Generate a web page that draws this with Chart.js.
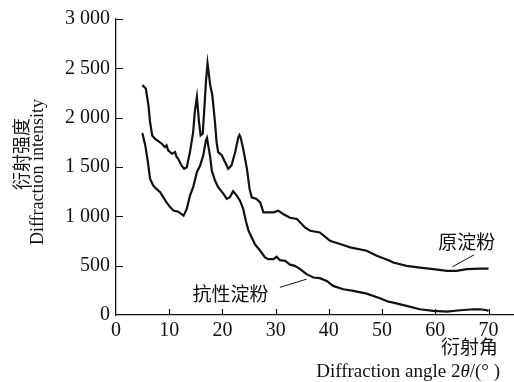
<!DOCTYPE html>
<html>
<head>
<meta charset="utf-8">
<script src="https://cdn.jsdelivr.net/npm/chart.js@4"></script>
<style>
  html, body { margin: 0; padding: 0; background: #fff; }
</style>
</head>
<body>
<canvas id="xrd" width="514" height="382"></canvas>
<script>
// ---- data ----
const nativeAngle = [4.95, 5.6, 6.1, 6.4, 6.8, 7.3, 8.0, 8.6, 9.2, 9.5, 9.8, 10.5, 11.1, 11.4, 11.7, 12.3, 12.8, 13.3, 13.9, 14.5,
  14.8, 15.2, 15.6, 15.9, 16.3, 16.6, 16.9, 17.2, 17.7, 18.1, 18.6, 18.9, 19.2, 19.9, 20.5, 21.1, 21.7, 22.4, 23.0, 23.2,
  23.4, 23.9, 24.6, 25.1, 25.5, 26.4, 27.1, 27.7, 28.6, 29.6, 30.5, 31.4, 32.7, 34.0, 35.5, 36.5, 38.3, 40.2, 42.1, 44.0,
  47.1, 49.0, 51.2, 52.1, 54.6, 57.1, 59.6, 62.2, 64.0, 65.9, 68.4, 70];
const nativeIntensity = [2330, 2295, 2125, 1956, 1820, 1787, 1760, 1736, 1702, 1719, 1668, 1634, 1651, 1600, 1583, 1515, 1482, 1498, 1651, 1854,
  2057, 2210, 1956, 1820, 1837, 2092, 2362, 2550, 2330, 2227, 1956, 1752, 1651, 1617, 1549, 1482, 1515, 1651, 1803, 1825,
  1803, 1685, 1482, 1278, 1193, 1177, 1142, 1040, 1040, 1040, 1058, 1024, 985, 973, 888, 854, 837, 753, 719, 685,
  651, 600, 556, 532, 498, 481, 465, 447, 447, 465, 471, 471];

const resistAngle = [4.95, 5.5, 6.0, 6.4, 7.0, 7.6, 8.3, 8.9, 9.5, 10.2, 10.8, 11.7, 12.7, 13.3, 13.9, 14.5, 15.2, 15.8, 16.4, 16.9,
  17.1, 17.7, 18.0, 18.6, 19.2, 20.2, 20.8, 21.4, 22.0, 22.7, 23.3, 23.9, 24.4, 24.9, 25.5, 26.1, 27.1, 28.0, 28.6, 29.6,
  30.2, 30.8, 31.8, 32.7, 33.6, 34.6, 35.8, 37.1, 38.3, 39.6, 40.8, 42.7, 44.6, 47.1, 49.6, 51.2, 52.1, 54.6, 57.1, 59.6,
  62.2, 64.7, 67.2, 68.4, 69.7, 70];
const resistIntensity = [1845, 1719, 1549, 1380, 1312, 1278, 1244, 1193, 1142, 1091, 1058, 1047, 1007, 1075, 1210, 1295, 1447, 1515, 1617, 1770,
  1795, 1600, 1464, 1363, 1295, 1227, 1177, 1193, 1254, 1210, 1159, 1075, 956, 854, 786, 719, 651, 583, 566, 566,
  590, 556, 549, 510, 498, 465, 414, 380, 373, 346, 295, 261, 244, 217, 170, 135, 125, 92, 58, 41,
  34, 48, 58, 58, 48, 40];

const xTicks = [0, 10, 20, 30, 40, 50, 60, 70];
const yTicks = [0, 500, 1000, 1500, 2000, 2500, 3000];

const SERIF = '"Liberation Serif", "Times New Roman", serif';
const CJK = '"Noto Sans CJK SC", "Noto Sans CJK JP", sans-serif';
const INK = '#111';

function toPoints(xs, ys) {
  return xs.map((x, i) => ({ x, y: ys[i] }));
}

function fmtThousands(v) {
  if (v < 1000) return String(v);
  return Math.floor(v / 1000) + ' ' + String(v % 1000).padStart(3, '0');
}

// inward tick marks, axis titles and curve labels
const decor = {
  id: 'decor',
  afterDraw(chart) {
    const { ctx, chartArea: a, scales: { x, y } } = chart;
    ctx.save();
    ctx.strokeStyle = INK;
    ctx.lineWidth = 1.2;
    ctx.beginPath();
    xTicks.forEach(v => {
      if (v === 0) return;
      const px = Math.round(x.getPixelForValue(v)) + 0.5;
      ctx.moveTo(px, a.bottom); ctx.lineTo(px, a.bottom - 6);
    });
    yTicks.forEach(v => {
      if (v === 0) return;
      const py = Math.round(y.getPixelForValue(v)) + 0.5;
      ctx.moveTo(a.left, py); ctx.lineTo(a.left + 7, py);
    });
    ctx.stroke();

    // leader lines
    ctx.lineWidth = 1;
    ctx.beginPath();
    ctx.moveTo(x.getPixelForValue(63.2), y.getPixelForValue(488));
    ctx.lineTo(x.getPixelForValue(67.3), y.getPixelForValue(610));
    ctx.moveTo(x.getPixelForValue(30.8), y.getPixelForValue(280));
    ctx.lineTo(x.getPixelForValue(35.8), y.getPixelForValue(363));
    ctx.stroke();

    ctx.fillStyle = INK;
    ctx.textBaseline = 'middle';
    ctx.font = '19px ' + CJK;
    ctx.textAlign = 'center';
    ctx.fillText('原淀粉', x.getPixelForValue(65.9), y.getPixelForValue(740));
    ctx.fillText('抗性淀粉', x.getPixelForValue(21.5), y.getPixelForValue(220));

    // x title
    ctx.textAlign = 'right';
    ctx.font = '19px ' + CJK;
    ctx.fillText('衍射角', 498, 347);
    ctx.textBaseline = 'alphabetic';
    ctx.font = '19px ' + SERIF;
    let rx = 500;
    const tail = '/(° )';
    ctx.fillText(tail, rx, 377);
    rx -= ctx.measureText(tail).width;
    ctx.font = 'italic 19px ' + SERIF;
    ctx.fillText('θ', rx, 377);
    rx -= ctx.measureText('θ').width;
    ctx.font = '19px ' + SERIF;
    ctx.fillText('Diffraction angle 2', rx, 377);

    // y title
    ctx.save();
    ctx.translate(21, 154);
    ctx.rotate(-Math.PI / 2);
    ctx.textAlign = 'center';
    ctx.textBaseline = 'middle';
    ctx.font = '18px ' + CJK;
    ctx.fillText('衍射强度', 0, 0);
    ctx.restore();
    ctx.save();
    ctx.translate(38, 172);
    ctx.rotate(-Math.PI / 2);
    ctx.textAlign = 'center';
    ctx.textBaseline = 'middle';
    ctx.font = '18px ' + SERIF;
    ctx.fillText('Diffraction intensity', 0, 0);
    ctx.restore();
    ctx.restore();
  }
};

new Chart(document.getElementById('xrd'), {
  type: 'line',
  data: {
    datasets: [
      { label: '原淀粉', data: toPoints(nativeAngle, nativeIntensity),
        borderColor: INK, borderWidth: 2.2, pointRadius: 0, tension: 0, fill: false },
      { label: '抗性淀粉', data: toPoints(resistAngle, resistIntensity),
        borderColor: INK, borderWidth: 2.2, pointRadius: 0, tension: 0, fill: false },
    ]
  },
  options: {
    responsive: false, devicePixelRatio: 1, animation: false,
    layout: { padding: { left: 59, right: 1, top: 19, bottom: 35 } },
    scales: {
      x: {
        type: 'linear', min: 0, max: 74.6,
        afterBuildTicks: s => { s.ticks = xTicks.map(v => ({ value: v })); },
        grid: { display: false, drawTicks: false },
        border: { color: INK, width: 1.3 },
        ticks: { color: INK, padding: 4, font: { family: SERIF, size: 20 }, maxRotation: 0 },
      },
      y: {
        min: 0, max: 3000,
        afterBuildTicks: s => { s.ticks = yTicks.map(v => ({ value: v })); },
        grid: { display: false, drawTicks: false },
        border: { color: INK, width: 1.3 },
        ticks: { color: INK, padding: 6, font: { family: SERIF, size: 20 }, callback: v => fmtThousands(v) },
      },
    },
    plugins: { legend: { display: false }, tooltip: { enabled: false } },
  },
  plugins: [decor],
});
</script>
</body>
</html>
